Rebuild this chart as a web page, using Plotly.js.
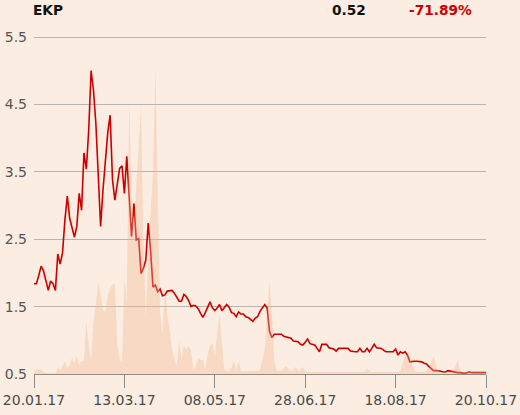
<!DOCTYPE html>
<html>
<head>
<meta charset="utf-8">
<script src="https://cdn.plot.ly/plotly-3.0.1.min.js"></script>
<style>
  html, body { margin: 0; padding: 0; background: #FBEDE1; }
  #chart { width: 520px; height: 415px; }
</style>
</head>
<body>
<div id="chart"></div>
<script>
// Tick labels (trading-day axis)
const tickLabels = ['20.01.17', '13.03.17', '08.05.17', '28.06.17', '18.08.17', '20.10.17'];
const tickDays = [0, 38, 76, 114, 152, 190];

// Closing price per trading day
const price = [
  1.84, 1.84, 1.96, 2.10, 2.03, 1.90, 1.74, 1.88, 1.84, 1.74,
  2.28, 2.13, 2.30, 2.79, 3.14, 2.81, 2.65, 2.53, 2.69, 3.18,
  2.93, 3.78, 3.54, 4.12, 5.00, 4.71, 4.22, 3.45, 2.69, 3.23,
  3.72, 4.08, 4.34, 3.38, 3.08, 3.35, 3.55, 3.59, 3.18, 3.73,
  3.14, 2.54, 3.03, 2.49, 2.51, 1.99, 2.07, 2.19, 2.74, 2.34,
  1.79, 1.82, 1.72, 1.76, 1.66, 1.67, 1.73, 1.74, 1.74, 1.70,
  1.64, 1.58, 1.58, 1.68, 1.65, 1.59, 1.50, 1.52, 1.51, 1.47,
  1.40, 1.34, 1.41, 1.50, 1.57, 1.48, 1.44, 1.48, 1.53, 1.44,
  1.49, 1.53, 1.49, 1.41, 1.40, 1.35, 1.42, 1.39, 1.39, 1.35,
  1.34, 1.31, 1.28, 1.33, 1.35, 1.43, 1.49, 1.53, 1.48, 1.13,
  1.04, 1.09, 1.09, 1.09, 1.09, 1.06, 1.05, 1.05, 1.03, 0.99,
  0.98, 0.98, 0.94, 0.93, 0.97, 1.02, 0.95, 0.94, 0.93, 0.88,
  0.83, 0.94, 0.94, 0.94, 0.89, 0.88, 0.87, 0.84, 0.88, 0.88,
  0.88, 0.88, 0.88, 0.84, 0.83, 0.83, 0.83, 0.88, 0.83, 0.83,
  0.88, 0.83, 0.88, 0.94, 0.89, 0.88, 0.88, 0.85, 0.83, 0.83,
  0.83, 0.83, 0.87, 0.78, 0.83, 0.81, 0.83, 0.78, 0.68, 0.69,
  0.69, 0.69, 0.69, 0.68, 0.66, 0.65, 0.61, 0.58, 0.55, 0.55,
  0.55, 0.54, 0.53, 0.53, 0.55, 0.54, 0.53, 0.52, 0.52, 0.52,
  0.51, 0.51, 0.52, 0.53, 0.52, 0.52, 0.52, 0.52, 0.52, 0.51,
  0.52
];

// Traded volume per trading day (relative units)
const volume = [
  2, 5, 5, 4, 2, 1, 1, 1, 1, 1,
  6, 4, 8, 13, 6, 9, 16, 10, 18, 9,
  13, 13, 52, 28, 14, 51, 70, 92, 80, 64,
  62, 78, 85, 90, 90, 30, 14, 11, 97, 70,
  271, 180, 150, 190, 230, 267, 130, 55, 120, 164,
  200, 306, 160, 60, 40, 84, 60, 45, 25, 15,
  8, 33, 14, 29, 24, 28, 24, 4, 8, 16,
  14, 14, 4, 20, 28, 31, 18, 40, 59, 31,
  4, 3, 3, 6, 13, 4, 13, 3, 3, 3,
  3, 3, 3, 3, 3, 4, 13, 24, 60, 93,
  61, 14, 3, 3, 3, 6, 8, 5, 3, 4,
  7, 3, 4, 7, 3, 2, 2, 2, 2, 2,
  2, 2, 2, 2, 2, 2, 2, 2, 2, 2,
  2, 2, 2, 2, 2, 2, 2, 2, 2, 3,
  5, 3, 2, 2, 2, 2, 2, 2, 2, 2,
  2, 2, 2, 2, 3, 10, 18, 19, 19, 8,
  3, 2, 2, 2, 2, 3, 5, 12, 18, 8,
  3, 2, 2, 2, 2, 2, 3, 6, 14, 5,
  2, 2, 2, 2, 3, 2, 2, 2, 2, 2,
  2
];

const ticker = 'EKP';
const lastPrice = '0.52';
const change = '-71.89%';

const days = price.map((_, i) => i);

const traces = [
  {
    x: days, y: volume, yaxis: 'y2', type: 'scatter', mode: 'lines',
    fill: 'tozeroy', fillcolor: 'rgba(242,180,142,0.35)',
    line: { width: 0, color: 'rgba(242,180,142,0)' }, hoverinfo: 'skip'
  },
  {
    x: days, y: price, type: 'scatter', mode: 'lines',
    line: { color: '#CC0000', width: 1.6 }
  }
];

const FONT = 'DejaVu Sans, Verdana, sans-serif';

const layout = {
  width: 520, height: 415,
  margin: { l: 34, r: 34, t: 33, b: 41 },
  paper_bgcolor: '#FBEDE1',
  plot_bgcolor: '#FBEDE1',
  showlegend: false,
  font: { family: FONT, size: 14, color: '#555555' },
  xaxis: {
    range: [0, 190],
    tickvals: tickDays, ticktext: tickLabels,
    showgrid: false, zeroline: false,
    showline: true, linecolor: '#8c8c8c', linewidth: 1,
    ticks: 'outside', ticklen: 13, tickcolor: '#8c8c8c', tickwidth: 1,
    tickfont: { family: FONT, size: 14, color: '#4a4a4a' }
  },
  yaxis: {
    range: [0.5, 5.5 + 4 / 67.4],
    tickvals: [0.5, 1.5, 2.5, 3.5, 4.5, 5.5],
    ticktext: ['0.5', '1.5', '2.5', '3.5', '4.5', '5.5'],
    showgrid: true, gridcolor: '#b5b5b5', gridwidth: 1,
    zeroline: false, showline: false, ticks: '',
    ticklabelstandoff: 6,
    tickfont: { family: FONT, size: 14, color: '#555555' }
  },
  yaxis2: {
    overlaying: 'y', range: [0, 341], visible: false, showgrid: false
  },
  annotations: [
    { text: '<b>' + ticker + '</b>', xref: 'paper', yref: 'paper', x: -0.006, y: 1.066,
      xanchor: 'left', yanchor: 'middle', showarrow: false,
      font: { family: FONT, size: 13.7, color: '#111111' } },
    { text: '<b>' + lastPrice + '</b>', xref: 'paper', yref: 'paper', x: 0.655, y: 1.066,
      xanchor: 'left', yanchor: 'middle', showarrow: false,
      font: { family: FONT, size: 13.7, color: '#111111' } },
    { text: '<b>' + change + '</b>', xref: 'paper', yref: 'paper', x: 0.825, y: 1.066,
      xanchor: 'left', yanchor: 'middle', showarrow: false,
      font: { family: FONT, size: 13.7, color: '#CC0000' } }
  ]
};

Plotly.newPlot('chart', traces, layout, { staticPlot: true, displayModeBar: false });
</script>
</body>
</html>
